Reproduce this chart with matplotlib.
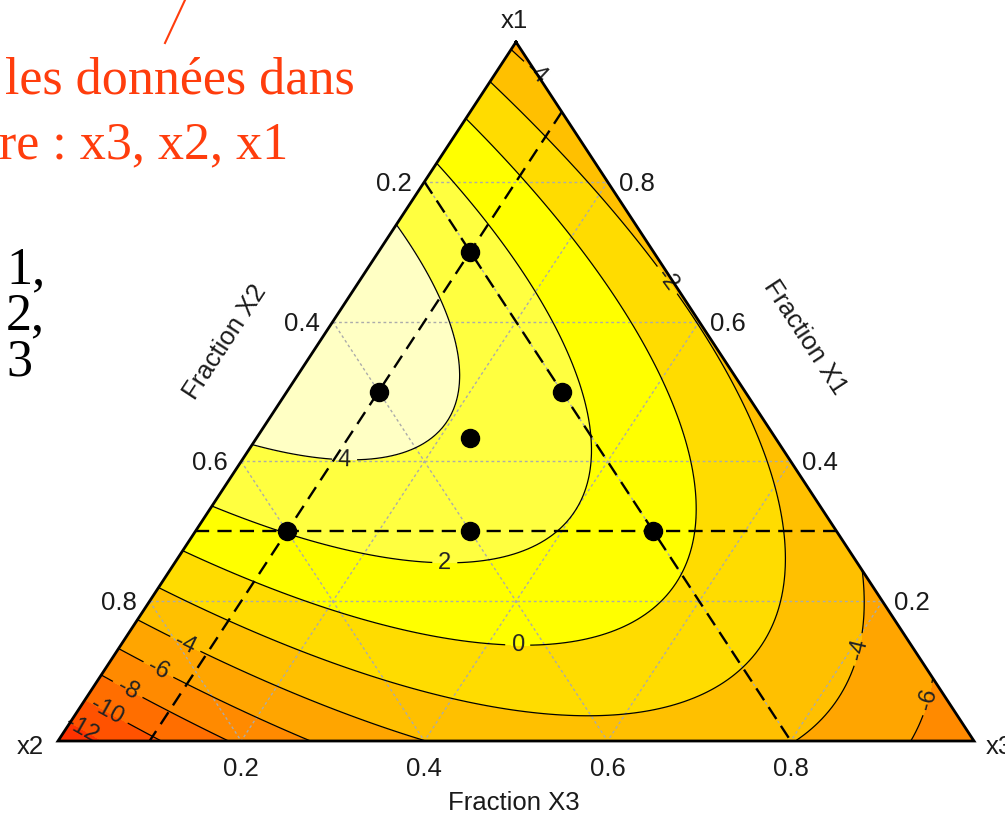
import numpy as np
import matplotlib
matplotlib.use("Agg")
import matplotlib.pyplot as plt
import matplotlib.tri as mtri
from matplotlib.lines import Line2D

# ---------------- data ----------------
# Scheffe mixture model (special cubic) fitted to the contour picture
model_terms = ["x1", "x2", "x3", "x1*x2", "x1*x3", "x2*x3", "x1*x2*x3"]
model_coefs = [-4.5, -13.7, -7.5, 56.5, 15.0, 30.0, -2.0]

# design points (x1, x2, x3)
pts_x1 = [0.7, 0.5, 0.5, 0.4333, 0.3, 0.3, 0.3]
pts_x2 = [0.2, 0.4, 0.2, 0.3333, 0.6, 0.4, 0.2]
pts_x3 = [0.1, 0.1, 0.3, 0.2333, 0.1, 0.3, 0.5]

# lower bounds of the constrained region (dashed lines)
low_x1 = 0.3
low_x2 = 0.2
low_x3 = 0.1

fill_levels = [-16, -12, -10, -8, -6, -4, -2, 0, 2, 4, 8]
line_levels = [-12, -10, -8, -6, -4, -2, 0, 2, 4]
fill_colors = ["#FF3300", "#FF5200", "#FF6E00", "#FF8A00", "#FFA500",
               "#FFC000", "#FFDC00", "#FFFF00", "#FFFF40", "#FFFFC4"]

tick_values = [0.2, 0.4, 0.6, 0.8]
tick_labels = ["0.2", "0.4", "0.6", "0.8"]
vertex_labels = ["x1", "x2", "x3"]
axis_titles = ["Fraction X1", "Fraction X2", "Fraction X3"]

# ---------------- helpers ----------------
W, H = 1005, 817


def tern(x1, x2, x3):
    x1 = np.asarray(x1, float)
    x3 = np.asarray(x3, float)
    return x3 + x1 / 2.0, x1


def model(x1, x2, x3):
    c = model_coefs
    return (c[0] * x1 + c[1] * x2 + c[2] * x3 + c[3] * x1 * x2 + c[4] * x1 * x3
            + c[5] * x2 * x3 + c[6] * x1 * x2 * x3)


fig = plt.figure(figsize=(W / 100, H / 100), dpi=100)
# triangle: x2 vertex at (58,741), x3 at (974,741), x1 apex at (515,42) (image px)
ax = fig.add_axes([58 / W, (H - 741) / H, 916 / W, 699 / H])
ax.set_xlim(0, 1)
ax.set_ylim(0, 1)
ax.axis("off")

# mesh on the simplex
n = 160
I, J, idx = [], [], {}
for i in range(n + 1):
    for j in range(n + 1 - i):
        idx[(i, j)] = len(I)
        I.append(i)
        J.append(j)
I = np.array(I)
J = np.array(J)
tris = []
for i in range(n):
    for j in range(n - i):
        tris.append([idx[(i, j)], idx[(i + 1, j)], idx[(i, j + 1)]])
        if i + j < n - 1:
            tris.append([idx[(i + 1, j)], idx[(i + 1, j + 1)], idx[(i, j + 1)]])
gx1 = I / n
gx3 = J / n
gx2 = np.clip(1 - gx1 - gx3, 0, 1)
gu, gv = tern(gx1, gx2, gx3)
tri = mtri.Triangulation(gu, gv, np.array(tris))
z = model(gx1, gx2, gx3)

ax.tricontourf(tri, z, levels=fill_levels, colors=fill_colors, zorder=1)

# grid lines
for c in tick_values:
    for a, b in [(tern(c, 1 - c, 0), tern(c, 0, 1 - c)),
                 (tern(1 - c, c, 0), tern(0, c, 1 - c)),
                 (tern(1 - c, 0, c), tern(0, 1 - c, c))]:
        ax.plot([a[0], b[0]], [a[1], b[1]], color="#ABABAB", lw=1.0,
                linestyle=(0, (2, 2)), zorder=2)

cs = ax.tricontour(tri, z, levels=line_levels, colors="k", linewidths=0.9,
                   linestyles="solid", zorder=3)
label_pos = [(0.313, 0.413), (0.4225, 0.269), (0.502, 0.152), (0.142, 0.147),
             (0.1135, 0.112), (0.0786, 0.080), (0.0568, 0.0515), (0.0295, 0.0258),
             (0.8624, 0.1345), (0.941, 0.063), (0.526, 0.957), (0.670, 0.664)]
cl = ax.clabel(cs, manual=label_pos, inline=True, fontsize=17, fmt="%d",
               colors="#222222")
for t in cl:
    t.set_fontfamily("Liberation Sans")

# dashed constraint lines
for a, b in [(tern(low_x1, 1 - low_x1, 0), tern(low_x1, 0, 1 - low_x1)),
             (tern(1 - low_x2, low_x2, 0), tern(0, low_x2, 1 - low_x2)),
             (tern(1 - low_x3, 0, low_x3), tern(0, 1 - low_x3, low_x3))]:
    ax.plot([a[0], b[0]], [a[1], b[1]], color="k", lw=1.7,
            linestyle=(0, (6, 3.5)), zorder=4)

# design points
pu, pv = tern(pts_x1, pts_x2, pts_x3)
ax.plot(pu, pv, "o", color="k", markersize=13, zorder=5, clip_on=False)

# triangle border
bu, bv = tern([1, 0, 0, 1], [0, 1, 0, 0], [0, 0, 1, 0])
ax.plot(bu, bv, color="k", lw=2.0, zorder=6, clip_on=False, solid_joinstyle="miter")

sans = "Liberation Sans"
tfs = 18.5


def ann(s, xy, off, **kw):
    ax.annotate(s, xy=xy, xytext=off, textcoords="offset pixels",
                fontsize=tfs, family=sans, color="#1a1a1a",
                ha=kw.pop("ha", "center"), va=kw.pop("va", "center"),
                annotation_clip=False, **kw)


for c, lab in zip(tick_values, tick_labels):
    ann(lab, tern(0, 1 - c, c), (0, -28))      # Fraction X3 (bottom)
    ann(lab, tern(1 - c, c, 0), (-31, -2))     # Fraction X2 (left)
    ann(lab, tern(c, 0, 1 - c), (29, -2))      # Fraction X1 (right)

ann(vertex_labels[0], tern(1, 0, 0), (-2, 21))
ann(vertex_labels[1], tern(0, 1, 0), (-28, -6))
ann(vertex_labels[2], tern(0, 0, 1), (12, -6), ha="left")


def img_text(x, y, s, **kw):
    fig.text(x / W, 1 - y / H, s, **kw)


img_text(514, 803, axis_titles[2], fontsize=tfs, family=sans, color="#1a1a1a",
         ha="center", va="center")
img_text(225, 342, axis_titles[1], fontsize=tfs, family=sans, color="#1a1a1a",
         ha="center", va="center", rotation=56.8, rotation_mode="anchor")
img_text(805, 337, axis_titles[0], fontsize=tfs, family=sans, color="#1a1a1a",
         ha="center", va="center", rotation=-56.8, rotation_mode="anchor")

# annotation text from the slide (cropped)
red = "#FF3D0D"
serif = "Liberation Serif"
img_text(5, 93, "les données dans", fontsize=37.5, family=serif, color=red,
         ha="left", va="baseline")
img_text(-1, 158, "re : x3, x2, x1", fontsize=37.5, family=serif, color=red,
         ha="left", va="baseline")
fig.add_artist(Line2D([165 / W, 185 / W], [1 - 43 / H, 1 - 0 / H],
                      transform=fig.transFigure, color=red, lw=1.5))
for y, s in [(283, "1,"), (329, "2,"), (375, "3")]:
    img_text(6, y, s, fontsize=37.5, family=serif, color="k",
             ha="left", va="baseline")

fig.savefig("out.png", dpi=100)
